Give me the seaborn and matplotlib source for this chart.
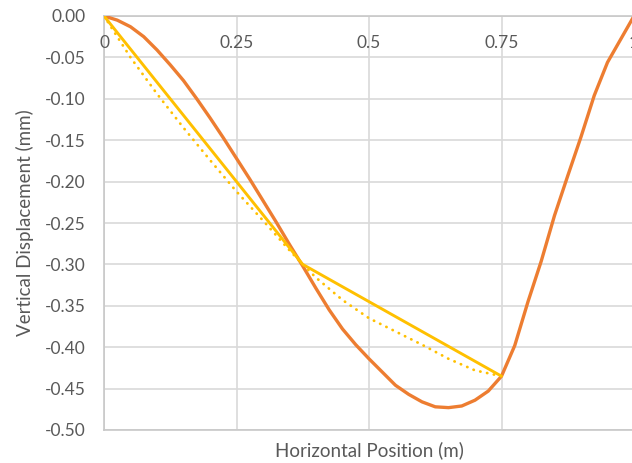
import numpy as np
import matplotlib
matplotlib.use('Agg')
import matplotlib.pyplot as plt
import seaborn as sns

# measured deflection (orange)
x_meas = [0, 0.025, 0.05, 0.075, 0.1, 0.125, 0.15, 0.175, 0.2, 0.225, 0.25,
          0.275, 0.3, 0.325, 0.35, 0.375, 0.4, 0.425, 0.45, 0.475, 0.5,
          0.525, 0.55, 0.575, 0.6, 0.625, 0.65, 0.675, 0.7, 0.725, 0.75,
          0.775, 0.8, 0.825, 0.85, 0.875, 0.9, 0.925, 0.95, 0.975, 1.0]
y_meas = [0, -0.005, -0.013, -0.025, -0.041, -0.059, -0.078, -0.100, -0.123, -0.147, -0.172,
          -0.197, -0.223, -0.249, -0.276, -0.302, -0.329, -0.355, -0.378, -0.397, -0.414,
          -0.430, -0.446, -0.457, -0.466, -0.472, -0.473, -0.471, -0.464, -0.453, -0.435,
          -0.398, -0.345, -0.296, -0.241, -0.193, -0.146, -0.096, -0.056, -0.028, 0]

# straight segments between the three supports (yellow solid)
x_seg = [0, 0.375, 0.75]
y_seg = [0, -0.30, -0.435]

# smoothed curve (yellow dotted)
x_smooth = [0, 0.05, 0.1, 0.15, 0.2, 0.25, 0.3, 0.35, 0.375, 0.4, 0.45,
            0.5, 0.55, 0.6, 0.65, 0.7, 0.75]
y_smooth = [0, -0.050, -0.094, -0.135, -0.174, -0.212, -0.247, -0.283, -0.300, -0.316, -0.343,
            -0.365, -0.381, -0.397, -0.414, -0.428, -0.435]

xticks = [0, 0.25, 0.5, 0.75, 1.0]
xtick_labels = ['0', '0.25', '0.5', '0.75', '1']
yticks = np.round(np.arange(-0.5, 0.001, 0.05), 2)

sns.set_theme(style='white')
plt.rcParams['font.family'] = ['Lato', 'DejaVu Sans']

grey_text = '#595959'
fig = plt.figure(figsize=(6.32, 4.63), dpi=100)
ax = fig.add_axes([104/632, 1 - 430/463, 530/632, 414/463])

sns.lineplot(x=x_meas, y=y_meas, ax=ax, color='#ED7D31', lw=2.4, zorder=3)
sns.lineplot(x=x_seg, y=y_seg, ax=ax, color='#FFC000', lw=2.1, zorder=4)
sns.lineplot(x=x_smooth, y=y_smooth, ax=ax, color='#FFC000', lw=2.0, zorder=4,
             linestyle=(0, (0.1, 2.4)), dash_capstyle='round')

ax.set_xlim(0, 1)
ax.set_ylim(-0.5, 0)
ax.set_xticks(xticks)
ax.set_yticks(yticks)
ax.set_yticklabels([f'{abs(v):.2f}' if v == 0 else f'{v:.2f}' for v in yticks])
ax.tick_params(axis='x', length=0, labelbottom=False)
ax.tick_params(axis='y', length=0, pad=13, labelsize=12.5, labelcolor=grey_text)
ax.grid(True, color='#D9D9D9', lw=1.2)

for xv, lab in zip(xticks, xtick_labels):
    ax.text(xv, -0.033, lab, ha='center', va='center', fontsize=12.5, color=grey_text)

for side in ['left', 'top', 'bottom']:
    ax.spines[side].set_color('#C8C8C8')
    ax.spines[side].set_linewidth(1.2)
ax.spines['right'].set_visible(False)

ax.set_xlabel('Horizontal Position (m)', fontsize=13.5, color=grey_text)
ax.xaxis.set_label_coords(0.5, -0.048)
ax.xaxis.label.set_va('center')
ax.set_ylabel('Vertical Displacement (mm)', fontsize=13.5, color=grey_text)
ax.yaxis.set_label_coords(-0.149, 0.5)
ax.yaxis.label.set_va('center')

fig.savefig('out.png', dpi=100)
